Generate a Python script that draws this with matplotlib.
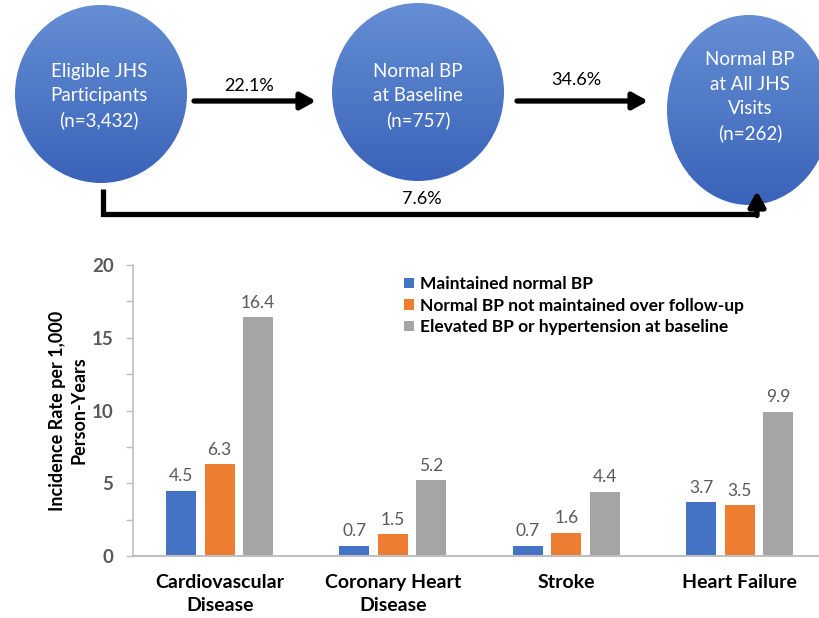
import matplotlib
matplotlib.use("Agg")
import matplotlib.pyplot as plt
import numpy as np
from matplotlib.patches import Ellipse, Patch
from matplotlib.colors import LinearSegmentedColormap

plt.rcParams['font.family'] = ['Lato', 'DejaVu Sans']

categories = ["Cardiovascular\nDisease", "Coronary Heart\nDisease", "Stroke", "Heart Failure"]
series_names = ["Maintained normal BP",
                "Normal BP not maintained over follow-up",
                "Elevated BP or hypertension at baseline"]
maintained = [4.5, 0.7, 0.7, 3.7]
not_maintained = [6.3, 1.5, 1.6, 3.5]
elevated = [16.4, 5.2, 4.4, 9.9]
colors = ["#4472C4", "#ED7D31", "#A5A5A5"]

flow_nodes = ["Eligible JHS\nParticipants\n(n=3,432)",
              "Normal BP\nat Baseline\n(n=757)",
              "Normal BP\nat All JHS\nVisits\n(n=262)"]
flow_pcts = ["22.1%", "34.6%", "7.6%"]

W, H = 820, 618
fig = plt.figure(figsize=(W / 100, H / 100), dpi=100)

# ---------- top flow diagram (pixel coordinates) ----------
ov = fig.add_axes([0, 0, 1, 1])
ov.axis('off')

cmap = LinearSegmentedColormap.from_list("g", ["#658ED4", "#3A63B9"])
grad = np.linspace(0, 1, 256).reshape(-1, 1)
ellipses = [(101, 94, 172, 178), (418, 92, 172, 178), (749, 110, 164, 190)]
text_pos = [(99, 96), (418, 96), (750, 97)]
for (cx, cy, w, h), (tx, ty), txt in zip(ellipses, text_pos, flow_nodes):
    e = Ellipse((cx, cy), w, h, facecolor="none", edgecolor="none")
    ov.add_patch(e)
    im = ov.imshow(grad, cmap=cmap, extent=(cx - w / 2, cx + w / 2, cy + h / 2, cy - h / 2),
                   aspect='auto', zorder=1)
    im.set_clip_path(e)
    ov.text(tx, ty, txt, color="white", ha="center", va="center", fontsize=13.5,
            linespacing=1.52, zorder=3)
ov.set_xlim(0, W)
ov.set_ylim(H, 0)

arrow_kw = dict(arrowstyle="-|>,head_length=0.9,head_width=0.5", color="black", lw=3.8,
                shrinkA=0, shrinkB=0)
ov.annotate("", xy=(316, 101), xytext=(194, 101), arrowprops=arrow_kw)
ov.annotate("", xy=(648, 101), xytext=(517, 101), arrowprops=arrow_kw)
ov.text(249, 86, flow_pcts[0], ha="center", va="center", fontsize=13)
ov.text(576, 80, flow_pcts[1], ha="center", va="center", fontsize=13)
ov.plot([103, 103, 757], [189, 214, 214], color="black", lw=3.8, solid_joinstyle="miter",
        solid_capstyle="butt")
ov.annotate("", xy=(757, 191), xytext=(757, 215.5), arrowprops=arrow_kw)
ov.text(422, 199, flow_pcts[2], ha="center", va="center", fontsize=13)

# ---------- bar chart ----------
ax_l, ax_r, y0, y20 = 133, 820, 556, 265
unit = 173.3
ax = fig.add_axes([ax_l / W, 1 - y0 / H, (ax_r - ax_l) / W, (y0 - y20) / H])
x = np.arange(len(categories))
pitch = 0.222
bw = 0.173
for i, (vals, c) in enumerate(zip([maintained, not_maintained, elevated], colors)):
    ax.bar(x + (i - 1) * pitch, vals, width=bw, color=c, label=series_names[i], zorder=2)
    for xb, v in zip(x + (i - 1) * pitch, vals):
        ax.text(xb, v + 0.45, f"{v:.1f}", ha="center", va="bottom", fontsize=12.5,
                color="#595959")

ax.set_ylim(0, 20)
ax.set_xlim(-0.5, (ax_r - ax_l) / unit - 0.5)
ax.set_yticks([0, 5, 10, 15, 20])
ax.set_yticks(np.arange(0, 20.1, 2.5), minor=True)
ax.set_xticks(x)
ax.set_xticklabels(categories, fontsize=14, fontweight="bold", color="black", linespacing=1.45)
ax.tick_params(axis="x", length=0, pad=13)
ax.tick_params(axis="y", which="both", length=5, color="#BFBFBF", width=1, direction="out",
               labelsize=13.5, labelcolor="#595959", pad=9)
for lab in ax.get_yticklabels():
    lab.set_fontweight("bold")
for s in ["top", "right"]:
    ax.spines[s].set_visible(False)
ax.spines["left"].set_color("#BFBFBF")
ax.spines["bottom"].set_color("#BFBFBF")
ax.spines["left"].set_linewidth(1.2)
ax.spines["bottom"].set_linewidth(1.5)
ax.set_ylabel("Incidence Rate per 1,000\nPerson-Years", fontsize=13, fontweight="bold",
              linespacing=1.3)
ax.yaxis.set_label_coords(-0.066, 0.5)

handles = [Patch(facecolor=c, edgecolor="none") for c in colors]
fig.legend(handles, series_names, loc="upper left", bbox_to_anchor=(404 / W, 1 - 276 / H),
           frameon=False, handlelength=0.55, handleheight=0.55, handletextpad=0.35,
           labelspacing=0.32, prop=dict(size=12.5, weight="bold"), borderaxespad=0, borderpad=0)

fig.savefig("out.png", dpi=100)
